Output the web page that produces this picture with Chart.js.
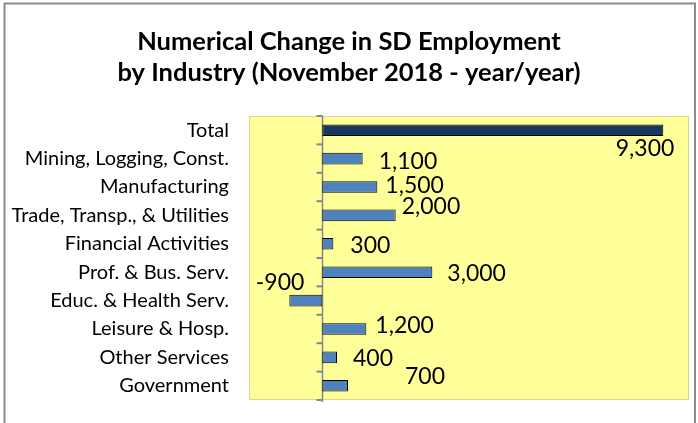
<!DOCTYPE html>
<html>
<head>
<meta charset="utf-8">
<script src="https://cdn.jsdelivr.net/npm/chart.js@4/dist/chart.umd.min.js"></script>
<style>
  html, body { margin: 0; padding: 0; background: #ffffff; }
  #wrap { width: 698px; height: 423px; position: relative; }
</style>
</head>
<body>
<div id="wrap"><canvas id="c" width="698" height="423"></canvas></div>
<script>
// ---- data ----
const categories = [
  "Total",
  "Mining, Logging, Const.",
  "Manufacturing",
  "Trade, Transp., & Utilities",
  "Financial Activities",
  "Prof. & Bus. Serv.",
  "Educ. & Health Serv.",
  "Leisure & Hosp.",
  "Other Services",
  "Government"
];
const changeValues = [9300, 1100, 1500, 2000, 300, 3000, -900, 1200, 400, 700];
const titleLines = ["Numerical Change in SD Employment", "by Industry (November 2018 - year/year)"];

// ---- styling ----
const barColors = categories.map((c, i) => i === 0 ? "#17375E" : "#4F81BD");

// label placement (pixel offsets from the bar end: dx, dy, align) - style only
const labelPlacement = [
  { dx: 11, dy: 18, align: "right" },
  { dx: 16, dy: 2.5, align: "left" },
  { dx: 8, dy: -1.5, align: "left" },
  { dx: 6, dy: -9, align: "left" },
  { dx: 17, dy: 1.5, align: "left" },
  { dx: 15, dy: 1, align: "left" },
  { dx: 15, dy: -18, align: "right" },
  { dx: 9, dy: -3.5, align: "left" },
  { dx: 16, dy: 1, align: "left" },
  { dx: 57, dy: -9.5, align: "left" }
];

const frame = {
  id: "frame",
  beforeDraw(chart) {
    const ctx = chart.ctx;
    const a = chart.chartArea;
    ctx.save();
    ctx.fillStyle = "#ffffff";
    ctx.fillRect(0, 0, chart.width, chart.height);
    // outer border
    ctx.strokeStyle = "#8c8c8c";
    ctx.lineWidth = 2;
    ctx.beginPath();
    ctx.moveTo(4.5, chart.height);
    ctx.lineTo(4.5, 3.5);
    ctx.lineTo(695, 3.5);
    ctx.lineTo(695, chart.height);
    ctx.stroke();
    // plot area
    ctx.fillStyle = "#FFFF99";
    ctx.fillRect(a.left, a.top, a.right - a.left, a.bottom - a.top);
    ctx.strokeStyle = "#d6d68e";
    ctx.lineWidth = 1;
    ctx.strokeRect(a.left + 0.5, a.top + 0.5, a.right - a.left - 1, a.bottom - a.top - 1);
    ctx.restore();
  },
  beforeDatasetsDraw(chart) {
    const ctx = chart.ctx;
    const a = chart.chartArea;
    const xs = chart.scales.x;
    const ys = chart.scales.y;
    const x0 = Math.round(xs.getPixelForValue(0)) + 0.5;
    ctx.save();
    ctx.strokeStyle = "#868686";
    ctx.lineWidth = 1.5;
    ctx.beginPath();
    ctx.moveTo(x0, a.top);
    ctx.lineTo(x0, a.bottom + 2);
    ctx.stroke();
    ctx.lineWidth = 2;
    const n = categories.length;
    for (let k = 0; k <= n; k++) {
      const y = ys.getPixelForValue(k - 0.5);
      ctx.beginPath();
      ctx.moveTo(x0 - 6, y);
      ctx.lineTo(x0, y);
      ctx.stroke();
    }
    ctx.restore();
  },
  afterDatasetsDraw(chart) {
    const ctx = chart.ctx;
    const meta = chart.getDatasetMeta(0);
    ctx.save();
    ctx.fillStyle = "#000000";
    ctx.font = "23px Lato";
    ctx.textBaseline = "middle";
    meta.data.forEach((bar, i) => {
      const p = labelPlacement[i];
      const v = changeValues[i];
      const txt = v.toLocaleString("en-US");
      ctx.textAlign = p.align;
      ctx.fillText(txt, bar.x + p.dx, bar.y + p.dy);
    });
    ctx.restore();
  }
};

new Chart(document.getElementById("c"), {
  type: "bar",
  data: {
    labels: categories,
    datasets: [{
      data: changeValues,
      backgroundColor: barColors,
      borderColor: "#000000",
      borderWidth: 1,
      borderSkipped: false,
      categoryPercentage: 1.0,
      barPercentage: 0.41
    }]
  },
  options: {
    indexAxis: "y",
    responsive: false,
    animation: false,
    layout: { padding: { top: 0, right: 9, bottom: 23, left: 9 } },
    plugins: {
      legend: { display: false },
      tooltip: { enabled: false },
      title: {
        display: true,
        text: titleLines,
        color: "#000000",
        font: { family: "Lato", size: 25.5, weight: "bold", lineHeight: "31px" },
        padding: { top: 26, bottom: 28 }
      }
    },
    scales: {
      x: {
        type: "linear",
        min: -2000,
        max: 10000,
        display: false
      },
      y: {
        type: "category",
        grid: { display: false, drawTicks: false },
        border: { display: false },
        ticks: {
          color: "#000000",
          padding: 20,
          font: { family: "Lato", size: 20 }
        },
        afterFit(scale) {
          scale.width = 240;
          scale.paddingTop = 0;
          scale.paddingBottom = 0;
        }
      }
    }
  },
  plugins: [frame]
});
</script>
</body>
</html>
